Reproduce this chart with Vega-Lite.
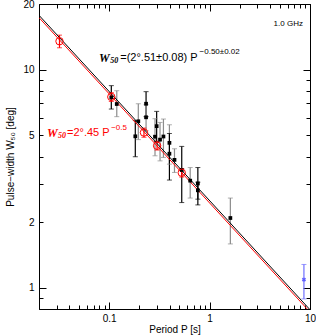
{
  "$schema": "https://vega.github.io/schema/vega-lite/v6.json",
  "width": 271,
  "height": 305,
  "autosize": "none",
  "padding": {"left": 39, "top": 4, "right": 6, "bottom": 27},
  "config": {
    "view": {"stroke": "#000000", "strokeWidth": 1},
    "font": "Liberation Sans",
    "axis": {
      "grid": false, "domain": false, "tickColor": "#000000", "labelColor": "#000000",
      "titleColor": "#000000", "labelFont": "Liberation Sans", "titleFont": "Liberation Sans",
      "labelFontSize": 10, "titleFontSize": 10, "titleFontWeight": "normal",
      "labelOverlap": false, "labelFlush": false, "tickWidth": 1
    }
  },
  "datasets": {
    "fits": [
      {"fit": "free", "P": 0.02, "W": 17.75},
      {"fit": "free", "P": 10, "W": 0.794},
      {"fit": "fixed", "P": 0.02, "W": 17.32},
      {"fit": "fixed", "P": 10, "W": 0.775}
    ],
    "pts": [
      {"P": 0.105, "W": 7.46, "lo": 6.60, "hi": 8.45, "grp": "a"},
      {"P": 0.119, "W": 6.96, "lo": 6.09, "hi": 8.01, "grp": "b"},
      {"P": 0.195, "W": 5.80, "lo": 4.78, "hi": 6.98, "grp": "b"},
      {"P": 0.182, "W": 4.95, "lo": 3.99, "hi": 5.84, "grp": "a"},
      {"P": 0.233, "W": 6.98, "lo": 6.09, "hi": 7.93, "grp": "a"},
      {"P": 0.233, "W": 6.05, "lo": 5.25, "hi": 6.91, "grp": "b"},
      {"P": 0.297, "W": 5.51, "lo": 4.68, "hi": 6.44, "grp": "a"},
      {"P": 0.286, "W": 4.93, "lo": 4.03, "hi": 5.96, "grp": "b"},
      {"P": 0.321, "W": 4.78, "lo": 3.82, "hi": 5.73, "grp": "b"},
      {"P": 0.347, "W": 4.94, "lo": 3.96, "hi": 5.94, "grp": "b"},
      {"P": 0.398, "W": 4.62, "lo": 3.69, "hi": 5.59, "grp": "b"},
      {"P": 0.398, "W": 4.12, "lo": 3.12, "hi": 5.10, "grp": "a"},
      {"P": 0.447, "W": 3.86, "lo": 3.38, "hi": 4.34, "grp": "b"},
      {"P": 0.528, "W": 3.47, "lo": 2.46, "hi": 4.45, "grp": "a"},
      {"P": 0.641, "W": 3.10, "lo": 2.58, "hi": 3.56, "grp": "b"},
      {"P": 0.764, "W": 3.01, "lo": 2.40, "hi": 3.56, "grp": "a"},
      {"P": 0.764, "W": 2.80, "lo": 2.55, "hi": 3.05, "grp": "a"},
      {"P": 1.61, "W": 2.09, "lo": 1.59, "hi": 2.58, "grp": "b"},
      {"P": 0.032, "W": 13.5, "lo": 12.6, "hi": 14.4, "grp": "r"},
      {"P": 0.105, "W": 7.5, "lo": 7.15, "hi": 7.85, "grp": "r"},
      {"P": 0.222, "W": 5.15, "lo": 4.9, "hi": 5.4, "grp": "r"},
      {"P": 0.30, "W": 4.48, "lo": 4.28, "hi": 4.7, "grp": "r"},
      {"P": 0.528, "W": 3.37, "lo": 3.22, "hi": 3.52, "grp": "r"},
      {"P": 8.7, "W": 1.09, "lo": 0.89, "hi": 1.28, "grp": "u"}
    ],
    "notes": [
      {"P": 0.0794, "W": 11.35, "t": "W", "k": "big", "c": "k"},
      {"P": 0.1023, "W": 10.95, "t": "50", "k": "sub", "c": "k"},
      {"P": 0.1288, "W": 11.35, "t": "=(2°.51±0.08) P", "k": "main", "c": "k"},
      {"P": 0.794, "W": 12.09, "t": "−0.50±0.02", "k": "sup", "c": "k"},
      {"P": 0.024, "W": 5.14, "t": "W", "k": "big", "c": "r"},
      {"P": 0.0309, "W": 4.96, "t": "50", "k": "sub", "c": "r"},
      {"P": 0.038, "W": 5.14, "t": "=2°.45 P", "k": "main", "c": "r"},
      {"P": 0.1047, "W": 5.42, "t": "−0.5", "k": "sup", "c": "r"},
      {"P": 8.51, "W": 16.26, "t": "1.0 GHz", "k": "freq", "c": "k"}
    ]
  },
  "layer": [
    {
      "data": {"name": "pts"},
      "mark": {"type": "rule", "strokeWidth": 1.2},
      "encoding": {
        "x": {"field": "P", "type": "quantitative",
              "scale": {"type": "log", "domain": [0.02, 10], "nice": false},
              "axis": {"orient": "top", "offset": -4, "values": [0.02,0.03,0.04,0.05,0.06,0.07,0.08,0.09,0.1,0.2,0.3,0.4,0.5,0.6,0.7,0.8,0.9,1,2,3,4,5,6,7,8,9,10], "tickSize": 4, "labels": false, "title": null}},
        "y": {"field": "lo", "type": "quantitative",
              "scale": {"type": "log", "domain": [0.8, 20], "nice": false},
              "axis": {"orient": "right", "offset": -4, "values": [0.8,0.9,1,2,3,4,5,6,7,8,9,10,20], "tickSize": 4, "labels": false, "title": null}},
        "y2": {"field": "hi"},
        "color": {"field": "grp", "type": "nominal", "scale": {"domain": ["a", "b", "r", "u"], "range": ["#000000", "#8c8c8c", "#ff0000", "#7070ff"]}, "legend": null}
      }
    },
    {
      "data": {"name": "pts"},
      "mark": {"type": "tick", "orient": "horizontal", "size": 5, "thickness": 1},
      "encoding": {
        "x": {"field": "P", "type": "quantitative",
              "axis": {"orient": "top", "offset": -7, "values": [0.1, 1, 10], "tickSize": 7, "labels": false, "title": null}},
        "y": {"field": "lo", "type": "quantitative",
              "axis": {"orient": "right", "offset": -7, "values": [1, 10], "tickSize": 7, "labels": false, "title": null}},
        "color": {"field": "grp", "type": "nominal", "legend": null}
      }
    },
    {
      "data": {"name": "pts"},
      "mark": {"type": "tick", "orient": "horizontal", "size": 5, "thickness": 1},
      "encoding": {
        "x": {"field": "P", "type": "quantitative", "axis": null},
        "y": {"field": "hi", "type": "quantitative", "axis": null},
        "color": {"field": "grp", "type": "nominal", "legend": null}
      }
    },
    {
      "data": {"name": "fits"},
      "transform": [{"filter": "datum.fit == 'free'"}],
      "mark": {"type": "line", "color": "#000000", "strokeWidth": 1, "clip": true},
      "encoding": {
        "x": {"field": "P", "type": "quantitative",
              "axis": {"orient": "bottom", "offset": -4, "values": [0.02,0.03,0.04,0.05,0.06,0.07,0.08,0.09,0.1,0.2,0.3,0.4,0.5,0.6,0.7,0.8,0.9,1,2,3,4,5,6,7,8,9,10], "tickSize": 4, "labelPadding": 4,
                       "labelExpr": "datum.value == 0.1 ? '0.1' : datum.value == 1 ? '1' : datum.value == 10 ? '10' : ''",
                       "title": "Period P [s]", "titlePadding": 1}},
        "y": {"field": "W", "type": "quantitative",
              "axis": {"orient": "left", "offset": -4, "values": [0.8,0.9,1,2,3,4,5,6,7,8,9,10,20], "tickSize": 4, "labelPadding": 5,
                       "labelExpr": "datum.value == 1 ? '1' : datum.value == 2 ? '2' : datum.value == 5 ? '5' : datum.value == 10 ? '10' : datum.value == 20 ? '20' : ''",
                       "title": "Pulse−width W₅₀ [deg]", "titlePadding": 7}}
      }
    },
    {
      "data": {"name": "fits"},
      "transform": [{"filter": "datum.fit == 'fixed'"}],
      "mark": {"type": "line", "color": "#ff0000", "strokeWidth": 1, "clip": true},
      "encoding": {
        "x": {"field": "P", "type": "quantitative",
              "axis": {"orient": "bottom", "offset": -7, "values": [0.1, 1, 10], "tickSize": 7, "labels": false, "title": null}},
        "y": {"field": "W", "type": "quantitative",
              "axis": {"orient": "left", "offset": -7, "values": [1, 10], "tickSize": 7, "labels": false, "title": null}}
      }
    },
    {
      "data": {"name": "pts"},
      "transform": [{"filter": "datum.grp == 'a' || datum.grp == 'b'"}],
      "mark": {"type": "point", "shape": "square", "filled": true, "size": 14, "color": "#000000", "opacity": 1},
      "encoding": {
        "x": {"field": "P", "type": "quantitative", "axis": null},
        "y": {"field": "W", "type": "quantitative", "axis": null}
      }
    },
    {
      "data": {"name": "pts"},
      "transform": [{"filter": "datum.grp == 'r'"}],
      "mark": {"type": "point", "shape": "circle", "filled": false, "size": 55, "color": "#ff0000", "strokeWidth": 1, "opacity": 1},
      "encoding": {
        "x": {"field": "P", "type": "quantitative", "axis": null},
        "y": {"field": "W", "type": "quantitative", "axis": null}
      }
    },
    {
      "data": {"name": "pts"},
      "transform": [{"filter": "datum.grp == 'u'"}],
      "mark": {"type": "point", "shape": "cross", "angle": 45, "filled": true, "size": 18, "color": "#6060ff", "opacity": 1},
      "encoding": {
        "x": {"field": "P", "type": "quantitative", "axis": null},
        "y": {"field": "W", "type": "quantitative", "axis": null}
      }
    },
    {
      "data": {"name": "notes"},
      "transform": [{"filter": "datum.k == 'big'"}],
      "mark": {"type": "text", "align": "left", "baseline": "middle", "fontSize": 12, "fontStyle": "italic", "fontWeight": "bold", "font": "Liberation Serif"},
      "encoding": {
        "x": {"field": "P", "type": "quantitative", "axis": null},
        "y": {"field": "W", "type": "quantitative", "axis": null},
        "text": {"field": "t"},
        "color": {"field": "c", "type": "nominal", "scale": {"domain": ["k", "r"], "range": ["#000000", "#ff0000"]}, "legend": null}
      }
    },
    {
      "data": {"name": "notes"},
      "transform": [{"filter": "datum.k == 'sub'"}],
      "mark": {"type": "text", "align": "left", "baseline": "middle", "fontSize": 8, "fontStyle": "italic", "fontWeight": "bold", "font": "Liberation Serif"},
      "encoding": {
        "x": {"field": "P", "type": "quantitative", "axis": null},
        "y": {"field": "W", "type": "quantitative", "axis": null},
        "text": {"field": "t"},
        "color": {"field": "c", "type": "nominal", "legend": null}
      }
    },
    {
      "data": {"name": "notes"},
      "transform": [{"filter": "datum.k == 'main'"}],
      "mark": {"type": "text", "align": "left", "baseline": "middle", "fontSize": 11},
      "encoding": {
        "x": {"field": "P", "type": "quantitative", "axis": null},
        "y": {"field": "W", "type": "quantitative", "axis": null},
        "text": {"field": "t"},
        "color": {"field": "c", "type": "nominal", "legend": null}
      }
    },
    {
      "data": {"name": "notes"},
      "transform": [{"filter": "datum.k == 'sup'"}],
      "mark": {"type": "text", "align": "left", "baseline": "middle", "fontSize": 8},
      "encoding": {
        "x": {"field": "P", "type": "quantitative", "axis": null},
        "y": {"field": "W", "type": "quantitative", "axis": null},
        "text": {"field": "t"},
        "color": {"field": "c", "type": "nominal", "legend": null}
      }
    },
    {
      "data": {"name": "notes"},
      "transform": [{"filter": "datum.k == 'freq'"}],
      "mark": {"type": "text", "align": "right", "baseline": "middle", "fontSize": 8, "color": "#000000", "fill": "#000000"},
      "encoding": {
        "x": {"field": "P", "type": "quantitative", "axis": null},
        "y": {"field": "W", "type": "quantitative", "axis": null},
        "text": {"field": "t"}
      }
    }
  ],
  "resolve": {"axis": {"x": "independent", "y": "independent"}}
}
